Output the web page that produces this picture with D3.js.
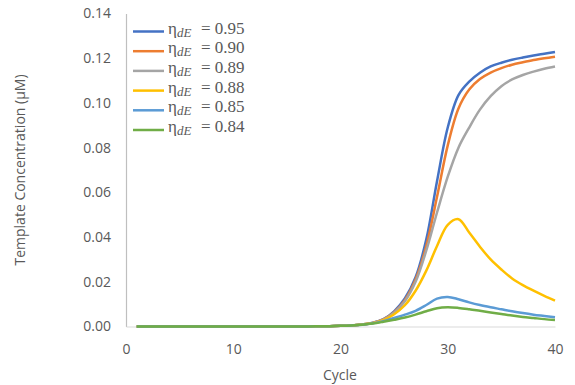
<!DOCTYPE html>
<html>
<head>
<meta charset="utf-8">
<script src="https://cdn.jsdelivr.net/npm/d3@7"></script>
<style>
  body { margin: 0; background: #fff; }
  svg text { font-family: "Open Sans", "Liberation Sans", sans-serif; fill: #595959; }
</style>
</head>
<body>
<svg id="chart" width="575" height="385"></svg>
<script>
const cycles = d3.range(1, 41)

const labels = ['0.95', '0.90', '0.89', '0.88', '0.85', '0.84']
const colors = ['#4472C4', '#ED7D31', '#A5A5A5', '#FFC000', '#5B9BD5', '#70AD47']

// template concentration (uM) per cycle 1..40
const eta95 = [0,0,0,0,0,0,0,0,0,0,0,0,0,0,0,0.00003,0.00005,0.0001,0.00015,0.0003,
  0.0005,0.0009,0.0017,0.0033,0.0068,0.0125,0.022,0.039,0.065,0.089,
  0.1035,0.1095,0.1135,0.1163,0.1180,0.1193,0.1203,0.1212,0.1220,0.1228]
const eta90 = [0,0,0,0,0,0,0,0,0,0,0,0,0,0,0,0.00003,0.00005,0.0001,0.00015,0.0003,
  0.0005,0.0009,0.0016,0.0032,0.0064,0.0118,0.021,0.036,0.058,0.081,
  0.0975,0.1060,0.1107,0.1136,0.1156,0.1171,0.1182,0.1192,0.1200,0.1207]
const eta89 = [0,0,0,0,0,0,0,0,0,0,0,0,0,0,0,0.00003,0.00005,0.0001,0.00015,0.0003,
  0.0005,0.0009,0.0016,0.0031,0.0062,0.0113,0.020,0.034,0.051,0.067,
  0.080,0.089,0.097,0.1030,0.1075,0.1105,0.1125,0.1140,0.1153,0.1163]
const eta88 = [0,0,0,0,0,0,0,0,0,0,0,0,0,0,0,0.00003,0.00005,0.0001,0.00015,0.0003,
  0.0005,0.0009,0.0015,0.0028,0.0055,0.0095,0.016,0.025,0.036,0.0455,
  0.048,0.042,0.0357,0.030,0.0255,0.0215,0.0185,0.016,0.0137,0.0116]
const eta85 = [0,0,0,0,0,0,0,0,0,0,0,0,0,0,0,0.00003,0.00005,0.0001,0.00015,0.0003,
  0.0005,0.0008,0.0014,0.0024,0.0038,0.0053,0.0070,0.0096,0.0125,0.0132,
  0.0122,0.0108,0.0096,0.0086,0.0077,0.0068,0.0060,0.0053,0.0047,0.0041]
const eta84 = [0,0,0,0,0,0,0,0,0,0,0,0,0,0,0,0.00003,0.00005,0.0001,0.00015,0.0003,
  0.0005,0.0008,0.0013,0.0021,0.0030,0.0040,0.0053,0.0068,0.0082,0.0086,
  0.0083,0.0077,0.0070,0.0063,0.0056,0.0049,0.0043,0.0038,0.0033,0.0029]

const series = [eta95, eta90, eta89, eta88, eta85, eta84]

const xTicks = [0, 10, 20, 30, 40]
const yTicks = [0, 0.02, 0.04, 0.06, 0.08, 0.10, 0.12, 0.14]

const svg = d3.select('#chart')

const x = d3.scaleLinear().domain([0, 40]).range([126, 555])
const y = d3.scaleLinear().domain([0, 0.14]).range([326.5, 13.5])

// axes
const gy = svg.append('g')
    .attr('transform', 'translate(126,0)')
    .call(d3.axisLeft(y).tickValues(yTicks).tickFormat(d3.format('.2f')).tickSize(0).tickPadding(15))
gy.select('.domain').attr('stroke', '#bfbfbf').attr('stroke-width', 1.2)
gy.selectAll('text').style('font-size', '14px').attr('fill', '#595959')

const gx = svg.append('g')
    .attr('transform', 'translate(0,326.5)')
    .call(d3.axisBottom(x).tickValues(xTicks).tickSize(0).tickPadding(18))
gx.select('.domain').attr('stroke', '#d9d9d9').attr('stroke-width', 1.2)
gx.selectAll('text').style('font-size', '14px').attr('fill', '#595959')

// titles
svg.append('text')
    .attr('x', 340).attr('y', 380)
    .attr('text-anchor', 'middle')
    .style('font-size', '14px')
    .text('Cycle')

svg.append('text')
    .attr('transform', 'translate(25,170) rotate(-90)')
    .attr('text-anchor', 'middle')
    .style('font-size', '14px')
    .text('Template Concentration (μM)')

// lines
const line = d3.line()
    .x((d, i) => x(cycles[i]))
    .y(d => y(d))
    .curve(d3.curveCatmullRom.alpha(0.5))

svg.selectAll('path.serie').data(series)
    .enter().append('path')
    .attr('class', 'serie')
    .attr('fill', 'none')
    .attr('stroke', (d, i) => colors[i])
    .attr('stroke-width', 2.5)
    .attr('d', line)

// legend
const leg = svg.selectAll('g.leg').data(labels)
    .enter().append('g')
    .attr('class', 'leg')
    .attr('transform', (d, i) => `translate(133,${31.5 + i * 19.7})`)

leg.append('line')
    .attr('x1', 0).attr('x2', 31)
    .attr('stroke', (d, i) => colors[i])
    .attr('stroke-width', 2.5)

const lt = leg.append('text')
    .attr('y', 2)
    .style('font-family', '"Liberation Serif", "DejaVu Serif", serif')
    .style('font-size', '17px')
    .attr('fill', '#262626')
lt.append('tspan').attr('x', 35).text('η')
lt.append('tspan').attr('dy', 3).style('font-size', '13px').style('font-style', 'italic').text('dE')
lt.append('tspan').attr('x', 68).attr('dy', -3).text(d => '= ' + d)
</script>
</body>
</html>
